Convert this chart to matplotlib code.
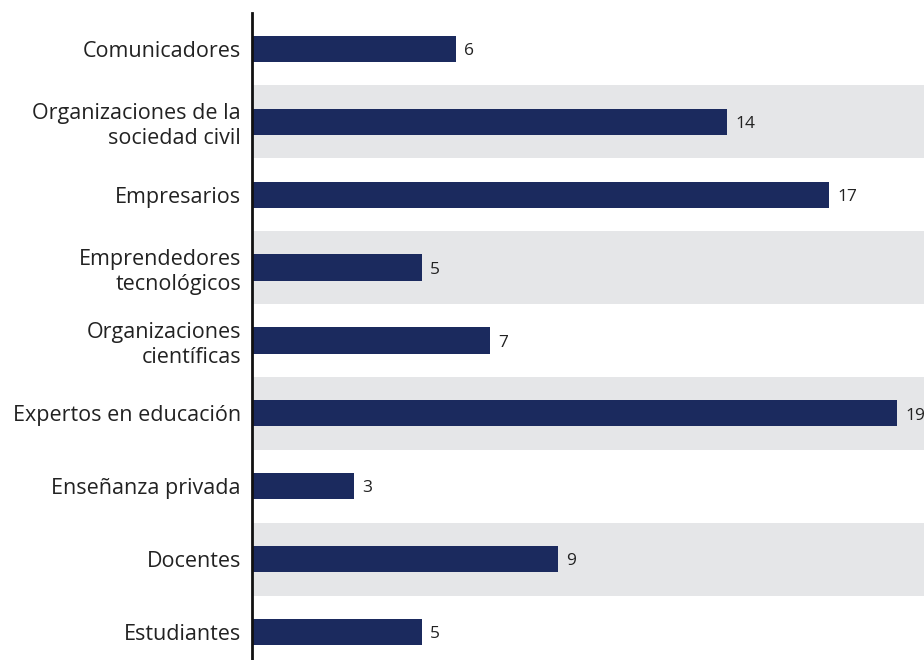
import matplotlib.pyplot as plt

# Data
categories = ["Comunicadores", "Organizaciones de la\nsociedad civil", "Empresarios",
              "Emprendedores\ntecnológicos", "Organizaciones\ncientíficas",
              "Expertos en educación", "Enseñanza privada", "Docentes", "Estudiantes"]
values = [6, 14, 17, 5, 7, 19, 3, 9, 5]

bar_color = "#1b2a5e"
band_color = "#e5e6e8"

plt.rcParams['font.family'] = ['Open Sans', 'DejaVu Sans']

fig = plt.figure(figsize=(9.24, 6.6), dpi=100, facecolor='w')
ax = fig.add_axes([252 / 924, 0, 1 - 252 / 924, 1 - 12.5 / 660])

y = list(range(len(categories)))
for i in y:
    if i % 2 == 1:
        ax.axhspan(i - 0.5, i + 0.5, color=band_color, lw=0, zorder=0)

ax.barh(y, values, height=0.36, color=bar_color, zorder=2)
for i, val in enumerate(values):
    ax.text(val + 0.24, i + 0.03, str(val), va='center', ha='left', fontsize=12.5, color='#222222')

ax.set_xlim(0, 672 / 33.95)
ax.set_ylim(8 + 28 / 72.9, -0.5)
ax.set_yticks(y)
ax.set_yticklabels(categories, fontsize=15.5, color='#222222', linespacing=1.25)
ax.set_xticks([])
ax.tick_params(axis='y', length=0, pad=8)
for s in ['top', 'right', 'bottom']:
    ax.spines[s].set_visible(False)
ax.spines['left'].set_linewidth(2)
ax.spines['left'].set_color('#111111')

for lab in ax.get_yticklabels():
    lab.set_multialignment('right')

fig.savefig("out.png", dpi=100)
